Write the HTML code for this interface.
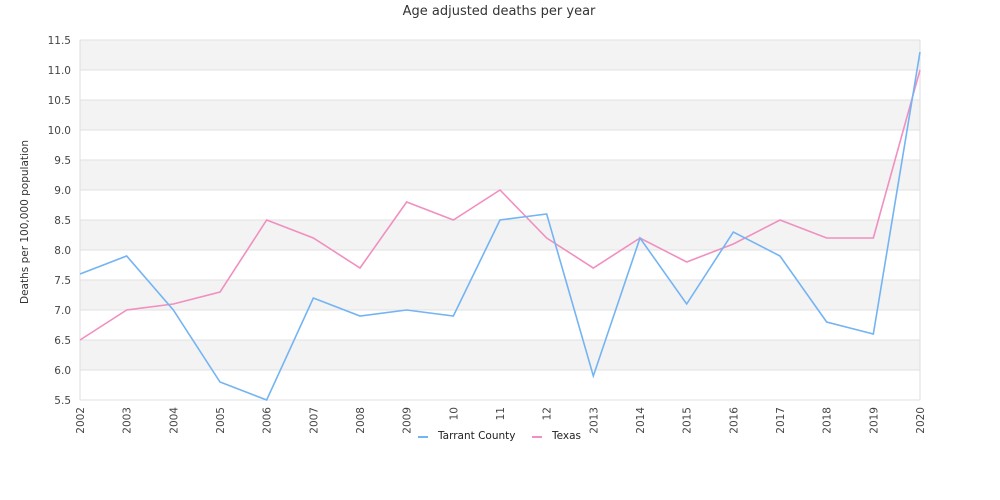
<!DOCTYPE html>
<html><head><meta charset="utf-8"><style>body{margin:0;background:#fff}svg{display:block;font-family:"DejaVu Sans","Liberation Sans",sans-serif}</style></head>
<body>
<svg id="chart" width="1000" height="500" xmlns="http://www.w3.org/2000/svg">
<text x="499" y="15" text-anchor="middle" font-size="13" fill="#333">Age adjusted deaths per year</text>
<text transform="translate(28,222) rotate(-90)" text-anchor="middle" font-size="10.5" fill="#333">Deaths per 100,000 population</text>
<g id="bands"></g><g id="yticks"></g><g id="xticks"></g><g id="lines"></g>
<g>
<g><line x1="418" y1="437" x2="428" y2="437" stroke="#74b4f3" stroke-width="2"/><text x="438" y="439" font-size="10.5" fill="#222">Tarrant County</text></g>
<g><line x1="532" y1="437" x2="542" y2="437" stroke="#f08fc0" stroke-width="2"/><text x="552" y="439" font-size="10.5" fill="#222">Texas</text></g>
</g>
</svg>
<script>
const categories=["2002","2003","2004","2005","2006","2007","2008","2009","10","11","12","2013","2014","2015","2016","2017","2018","2019","2020"];
const tarrant=[7.6,7.9,7.0,5.8,5.5,7.2,6.9,7.0,6.9,8.5,8.6,5.9,8.2,7.1,8.3,7.9,6.8,6.6,11.3];
const texas=[6.5,7.0,7.1,7.3,8.5,8.2,7.7,8.8,8.5,9.0,8.2,7.7,8.2,7.8,8.1,8.5,8.2,8.2,11.0];
const yTicks=["5.5","6.0","6.5","7.0","7.5","8.0","8.5","9.0","9.5","10.0","10.5","11.0","11.5"];
const NS="http://www.w3.org/2000/svg";
const X0=80,X1=920,Y0=400,Y1=40,YMIN=5.5,YMAX=11.5;
const x=i=>X0+i*(X1-X0)/(categories.length-1);
const y=v=>Y0-(v-YMIN)/(YMAX-YMIN)*(Y0-Y1);
function mk(t,a,p){const e=document.createElementNS(NS,t);for(const k in a)e.setAttribute(k,a[k]);p.appendChild(e);return e;}
const bands=document.getElementById('bands');
for(let i=0;i<yTicks.length-1;i++){
 const a=+yTicks[i],b=+yTicks[i+1];
 const r=mk('rect',{x:X0,y:y(b),width:X1-X0,height:y(a)-y(b),fill:(i%2===1)?'#f3f3f3':'#fff'},bands);
 
 
}
const yt=document.getElementById('yticks');
yTicks.forEach(t=>{
 const l=mk('line',{x1:X0,x2:X1,y1:y(+t),y2:y(+t),stroke:'#e2e2e2','stroke-width':1},yt);
 
 
 const tx=mk('text',{x:71,y:y(+t)+4,'text-anchor':'end','font-size':10.5,fill:'#444'},yt);
 tx.textContent=t;
 
 
});
mk('line',{x1:X0,x2:X0,y1:Y1,y2:Y0,stroke:'#ddd'},yt);
mk('line',{x1:X1,x2:X1,y1:Y1,y2:Y0,stroke:'#ddd'},yt);
const xt=document.getElementById('xticks');
categories.forEach((c,i)=>{
 const tx=mk('text',{transform:`translate(${x(i)+4},407) rotate(-90)`,'text-anchor':'end','font-size':10.5,fill:'#444'},xt);
 tx.textContent=c;
 
 
});
const lg=document.getElementById('lines');
[[texas,'#f08fc0','texas-line'],[tarrant,'#74b4f3','tarrant-county-line']].forEach(([d,c,n])=>{
 const p=mk('polyline',{points:d.map((v,i)=>x(i)+','+y(v)).join(' '),fill:'none',stroke:c,'stroke-width':1.6},lg);
 
 
});
</script>
</body></html>
